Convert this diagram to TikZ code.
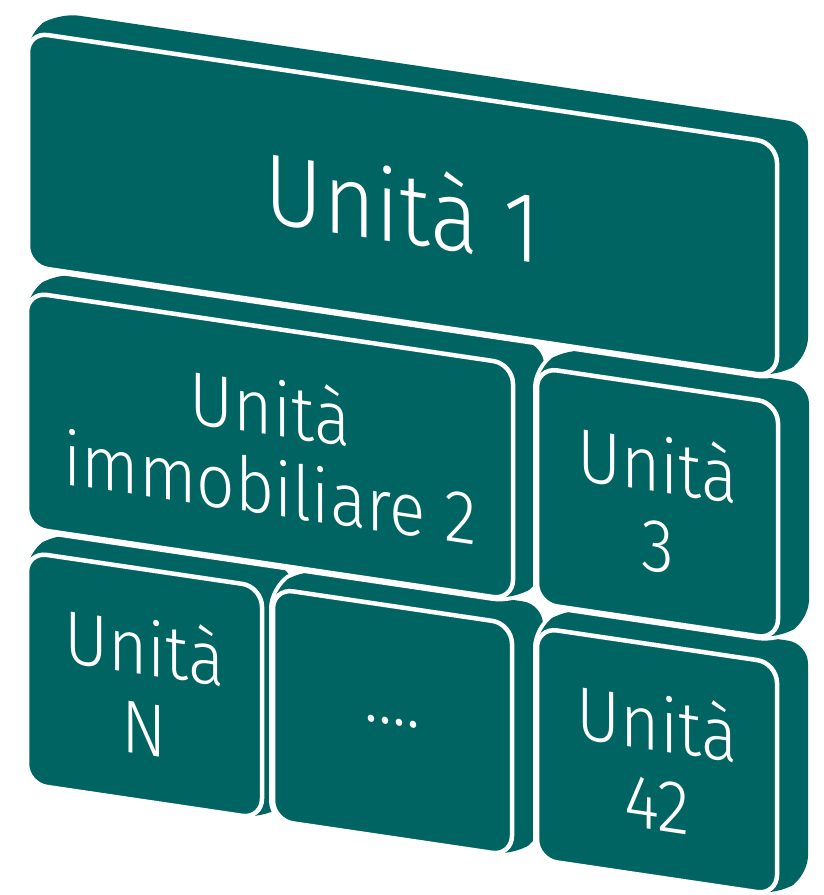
\documentclass[tikz,border=0pt]{standalone}
\usepackage{fontspec}
\setmainfont{Fira Sans Light}[FakeStretch=0.9]
\definecolor{unitteal}{RGB}{0,101,98}

\begin{document}
\begin{tikzpicture}[x=1pt,y=-1pt,
  unitback/.style={fill=unitteal,rounded corners=20pt,
    preaction={draw=white,line width=8pt,rounded corners=20pt}},
  unitface/.style={draw=white,line width=4.5pt,fill=unitteal,rounded corners=20pt,
    transform shape,text=white,align=center,inner sep=0pt,
    font=\fontsize{75}{80}\selectfont}]

\useasboundingbox (0,0) rectangle (823,895);

\begin{scope}[yslant=-0.148]

% Bottom row
\path[unitback] (27,548) -- (58,524) -- (293,524) -- (293,756) -- (262,780) -- (27,780) -- cycle;
\node[unitface, minimum width=235, minimum height=232] (unitN) at (144.5,664) {Unità\\N};

\path[unitback] (273,548) -- (304,524) -- (543,524) -- (543,756) -- (512,780) -- (273,780) -- cycle;
\node[unitface, minimum width=239, minimum height=232] (unitdots) at (392.5,664) {....};

\path[unitback] (537,548) -- (568,524) -- (808,524) -- (808,756) -- (777,780) -- (537,780) -- cycle;
\node[unitface, minimum width=240, minimum height=232] (unit42) at (657,664) {Unità\\42};

% Middle row
\path[unitback] (27,288) -- (58,264) -- (544,264) -- (544,500) -- (513,524) -- (27,524) -- cycle;
\node[unitface, minimum width=486, minimum height=236] (unit2) at (270,406) {Unità\\immobiliare 2};

\path[unitback] (537,288) -- (568,264) -- (809,264) -- (809,500) -- (778,524) -- (537,524) -- cycle;
\node[unitface, minimum width=241, minimum height=236] (unit3) at (657.5,406) {Unità\\3};

% Top row
\path[unitback] (28,28) -- (59,4) -- (808,4) -- (808,238) -- (777,262) -- (28,262) -- cycle;
\node[unitface, minimum width=749, minimum height=234, font=\fontsize{100}{110}\selectfont] (unit1) at (402.5,145) {Unità 1};

\end{scope}
\end{tikzpicture}
\end{document}
